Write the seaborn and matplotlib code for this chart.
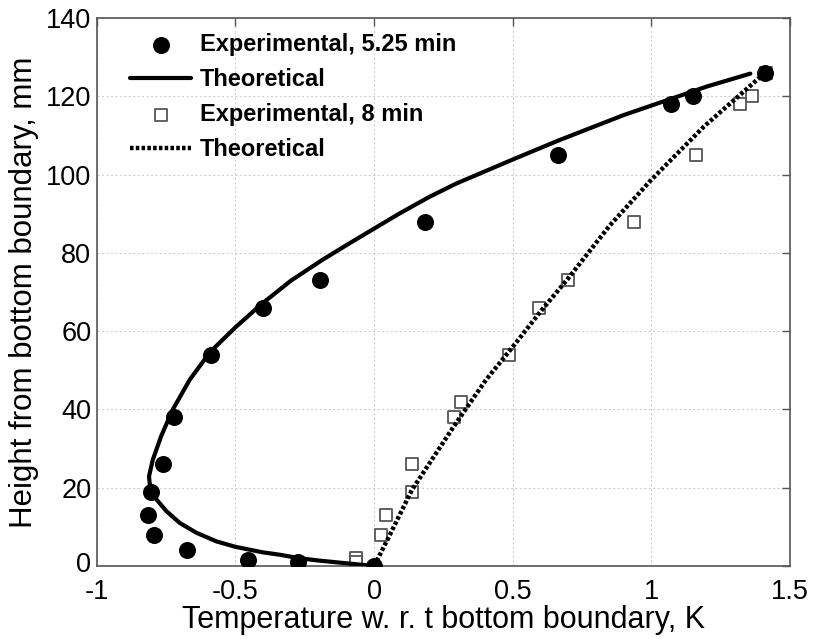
import numpy as np
import pandas as pd
import matplotlib
matplotlib.use("Agg")
import matplotlib.pyplot as plt
import matplotlib.transforms as mtransforms
import seaborn as sns

# Experimental, 5.25 min (filled circles)
exp1_x = [1.41, 1.15, 1.07, 0.665, 0.183, -0.196, -0.40, -0.587, -0.72, -0.76, -0.806, -0.815, -0.793, -0.674, -0.455, -0.273, 0.0]
exp1_y = [126, 120, 118, 105, 88, 73, 66, 54, 38, 26, 19, 13, 8, 4, 1.5, 1, 0]

# Theoretical curve for 5.25 min (solid)
th1_x = [0.0, -0.10, -0.20, -0.27, -0.342, -0.402, -0.50, -0.569, -0.641, -0.701, -0.749, -0.785,
         -0.807, -0.812, -0.798, -0.768, -0.726, -0.665, -0.612, -0.584, -0.50, -0.403, -0.30,
         -0.187, -0.09, 0.0, 0.09, 0.199, 0.296, 0.505, 0.668, 0.90, 1.077, 1.20, 1.357]
th1_y = [0.0, 0.7, 1.4, 2.0, 2.9, 3.5, 4.9, 6.3, 8.5, 11.0, 14.0, 17.0,
         19.5, 22.9, 27.2, 33.2, 40.0, 47.6, 52.7, 55.2, 61.0, 67.1, 72.9,
         78.2, 82.4, 86.2, 90.0, 94.3, 97.7, 104.0, 108.8, 115.2, 119.5, 122.5, 125.8]

# Experimental, 8 min (open squares)
exp2_x = [1.415, 1.363, 1.319, 1.16, 0.938, 0.698, 0.596, 0.485, 0.313, 0.289, 0.136, 0.136, 0.042, 0.026, -0.066, -0.066]
exp2_y = [126, 120, 118, 105, 88, 73, 66, 54, 42, 38, 26, 19, 13, 8, 2, 1]

# Theoretical curve for 8 min (dotted)
th2_x = [0.0, 0.05, 0.136, 0.283, 0.403, 0.50, 0.60, 0.70, 0.85, 1.0, 1.19, 1.41]
th2_y = [0.0, 7.0, 19.4, 35.2, 47.5, 56.0, 65.0, 73.5, 87.0, 98.7, 112.3, 126.0]

xticks = [-1, -0.5, 0, 0.5, 1, 1.5]
xtick_labels = ["-1", "-0.5", "0", "0.5", "1", "1.5"]
yticks = [0, 20, 40, 60, 80, 100, 120, 140]

sns.set_style("white")
plt.rcParams["font.family"] = ["Liberation Sans", "DejaVu Sans"]
plt.rcParams["axes.unicode_minus"] = False
for k in ["text.color", "axes.labelcolor", "xtick.labelcolor", "ytick.labelcolor"]:
    plt.rcParams[k] = "black"

fig = plt.figure(figsize=(8.14, 6.39), dpi=100)
ax = fig.add_axes([0.119, 0.1142, 0.8515, 0.8576])

d_e1 = pd.DataFrame({"x": exp1_x, "y": exp1_y})
d_t1 = pd.DataFrame({"x": th1_x, "y": th1_y})
d_e2 = pd.DataFrame({"x": exp2_x, "y": exp2_y})
d_t2 = pd.DataFrame({"x": th2_x, "y": th2_y})

sns.lineplot(data=d_t2, x="x", y="y", sort=False, estimator=None, ax=ax,
             color="black", lw=3.2, linestyle=(0, (0.8, 0.5)), zorder=3,
             label="Theoretical_2")
sns.scatterplot(data=d_e2, x="x", y="y", ax=ax, marker="s", s=85,
                facecolor="white", edgecolor="#555555", linewidth=1.3, zorder=2,
                label="Experimental, 8 min")
sns.lineplot(data=d_t1, x="x", y="y", sort=False, estimator=None, ax=ax,
             color="black", lw=3.0, zorder=4, label="Theoretical")
sns.scatterplot(data=d_e1, x="x", y="y", ax=ax, marker="o", s=150,
                color="black", edgecolor="black", linewidth=0, zorder=5,
                label="Experimental, 5.25 min")

ax.set_xlim(-1, 1.5)
ax.set_ylim(0, 140)
ax.set_xticks(xticks)
ax.set_xticklabels(xtick_labels)
ax.set_yticks(yticks)
ax.grid(True, color="#d0d0d0", linestyle=(0, (2, 2)), linewidth=0.8)
ax.tick_params(direction="in", top=True, right=True, length=6, width=1,
               color="#555555", labelcolor="black", labelsize=19.5)
ax.tick_params(axis="x", pad=9)
ax.tick_params(axis="y", pad=4)
for s in ax.spines.values():
    s.set_color("#555555")
    s.set_linewidth(1.2)

# nudge the y "0" label slightly upward so it does not collide with "-1"
ylab0 = ax.get_yticklabels()[0]
ylab0.set_transform(ylab0.get_transform() +
                    mtransforms.ScaledTranslation(0, 4 / 100, fig.dpi_scale_trans))

ax.set_xlabel("Temperature w. r. t bottom boundary, K", fontsize=22, labelpad=0, color="black")
ax.set_ylabel("Height from bottom boundary, mm", fontsize=22.5, labelpad=5, color="black")

handles, labels = ax.get_legend_handles_labels()
order = {"Experimental, 5.25 min": 0, "Theoretical": 1, "Experimental, 8 min": 2, "Theoretical_2": 3}
pairs = sorted(zip(handles, labels), key=lambda p: order[p[1]])
hs = [p[0] for p in pairs]
ls = [p[1].replace("_2", "") for p in pairs]
leg = ax.legend(hs, ls, loc="upper left", frameon=False,
                prop={"family": ["Liberation Sans", "DejaVu Sans"], "weight": "bold", "size": 17},
                handlelength=2.6, handletextpad=0.38, labelspacing=0.5,
                borderaxespad=0.0, borderpad=0.4, bbox_to_anchor=(0.034, 0.989))
for t in leg.get_texts():
    t.set_color("black")

fig.savefig("out.png", dpi=100)
